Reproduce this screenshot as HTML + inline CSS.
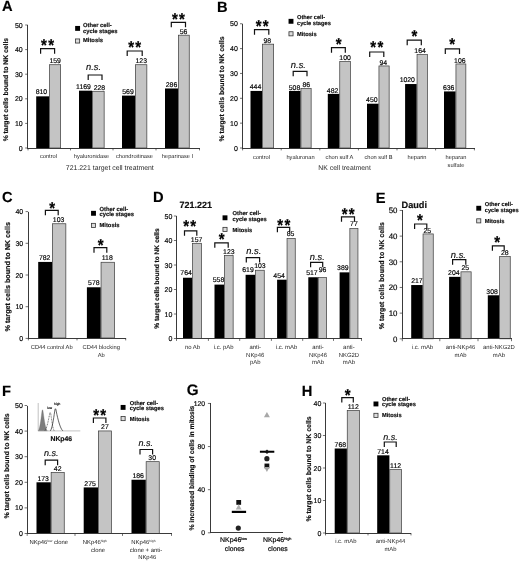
<!DOCTYPE html>
<html lang="en"><head><meta charset="utf-8"><title>Figure</title>
<style>html,body{margin:0;padding:0;background:#fff}body{width:520px;height:561px;overflow:hidden}svg text{stroke:#000;stroke-width:0.16px}svg{display:block;will-change:transform;font-family:'Liberation Sans', Arial, sans-serif}</style>
</head><body>
<svg width="520" height="561" viewBox="0 0 520 561" font-family='"Liberation Sans", Arial, sans-serif' text-rendering="geometricPrecision">
<rect width="520" height="561" fill="#fff"/>
<text x="2.00" y="11.40" font-size="14.7" text-anchor="start" font-weight="bold" font-style="normal" fill="#000" >A</text>
<rect x="36.20" y="96.34" width="13.00" height="51.66" fill="#000"/>
<rect x="49.55" y="64.71" width="11.10" height="83.29" fill="#c4c4c4" stroke="#3a3a3a" stroke-width="0.7"/>
<text x="41.40" y="94.44" font-size="6.9" text-anchor="middle" font-weight="normal" font-style="normal" fill="#000" >810</text>
<text x="55.15" y="63.06" font-size="6.9" text-anchor="middle" font-weight="normal" font-style="normal" fill="#000" >159</text>
<path d="M40.60 53.70V48.70H54.60V53.70" fill="none" stroke="#111" stroke-width="1.2"/>
<text transform="translate(48.25 51.12) scale(1 1.15)" font-size="15" text-anchor="middle" font-weight="bold" fill="#000" letter-spacing="1.3" style="stroke-width:0.22px">**</text>
<rect x="79.00" y="90.68" width="13.00" height="57.32" fill="#000"/>
<rect x="92.35" y="91.28" width="11.80" height="56.72" fill="#c4c4c4" stroke="#3a3a3a" stroke-width="0.7"/>
<text x="83.50" y="89.38" font-size="6.9" text-anchor="middle" font-weight="normal" font-style="normal" fill="#000" >1169</text>
<text x="99.45" y="89.63" font-size="6.9" text-anchor="middle" font-weight="normal" font-style="normal" fill="#000" >228</text>
<path d="M88.20 80.00V75.00H102.00V80.00" fill="none" stroke="#111" stroke-width="1.2"/>
<text x="93.60" y="70.40" font-size="9.4" text-anchor="middle" font-weight="normal" font-style="italic" fill="#111" >n.s.</text>
<rect x="122.00" y="95.60" width="13.00" height="52.40" fill="#000"/>
<rect x="135.35" y="64.71" width="11.50" height="83.29" fill="#c4c4c4" stroke="#3a3a3a" stroke-width="0.7"/>
<text x="128.00" y="94.30" font-size="6.9" text-anchor="middle" font-weight="normal" font-style="normal" fill="#000" >569</text>
<text x="141.25" y="63.06" font-size="6.9" text-anchor="middle" font-weight="normal" font-style="normal" fill="#000" >123</text>
<path d="M127.20 56.00V51.00H142.20V56.00" fill="none" stroke="#111" stroke-width="1.2"/>
<text transform="translate(135.35 53.42) scale(1 1.15)" font-size="15" text-anchor="middle" font-weight="bold" fill="#000" letter-spacing="1.3" style="stroke-width:0.22px">**</text>
<rect x="165.00" y="88.47" width="13.00" height="59.53" fill="#000"/>
<rect x="178.35" y="35.19" width="10.90" height="112.81" fill="#c4c4c4" stroke="#3a3a3a" stroke-width="0.7"/>
<text x="171.50" y="87.17" font-size="6.9" text-anchor="middle" font-weight="normal" font-style="normal" fill="#000" >286</text>
<text x="183.55" y="33.54" font-size="6.9" text-anchor="middle" font-weight="normal" font-style="normal" fill="#000" >56</text>
<path d="M171.30 27.30V22.30H185.50V27.30" fill="none" stroke="#111" stroke-width="1.2"/>
<text transform="translate(179.05 24.72) scale(1 1.15)" font-size="15" text-anchor="middle" font-weight="bold" fill="#000" letter-spacing="1.3" style="stroke-width:0.22px">**</text>
<line x1="27.80" y1="25.00" x2="27.80" y2="148.50" stroke="#3a3a3a" stroke-width="1" shape-rendering="crispEdges"/>
<line x1="27.30" y1="148.00" x2="200.00" y2="148.00" stroke="#3a3a3a" stroke-width="1" shape-rendering="crispEdges"/>
<line x1="25.20" y1="148.00" x2="27.80" y2="148.00" stroke="#333" stroke-width="0.7"/>
<text x="22.70" y="150.52" font-size="7" text-anchor="end" font-weight="normal" font-style="normal" fill="#000" >0</text>
<line x1="25.20" y1="123.40" x2="27.80" y2="123.40" stroke="#333" stroke-width="0.7"/>
<text x="22.70" y="125.92" font-size="7" text-anchor="end" font-weight="normal" font-style="normal" fill="#000" >10</text>
<line x1="25.20" y1="98.80" x2="27.80" y2="98.80" stroke="#333" stroke-width="0.7"/>
<text x="22.70" y="101.32" font-size="7" text-anchor="end" font-weight="normal" font-style="normal" fill="#000" >20</text>
<line x1="25.20" y1="74.20" x2="27.80" y2="74.20" stroke="#333" stroke-width="0.7"/>
<text x="22.70" y="76.72" font-size="7" text-anchor="end" font-weight="normal" font-style="normal" fill="#000" >30</text>
<line x1="25.20" y1="49.60" x2="27.80" y2="49.60" stroke="#333" stroke-width="0.7"/>
<text x="22.70" y="52.12" font-size="7" text-anchor="end" font-weight="normal" font-style="normal" fill="#000" >40</text>
<line x1="25.20" y1="25.00" x2="27.80" y2="25.00" stroke="#333" stroke-width="0.7"/>
<text x="22.70" y="27.52" font-size="7" text-anchor="end" font-weight="normal" font-style="normal" fill="#000" >50</text>
<line x1="28.00" y1="148.00" x2="28.00" y2="150.40" stroke="#333" stroke-width="0.7"/>
<line x1="70.50" y1="148.00" x2="70.50" y2="150.40" stroke="#333" stroke-width="0.7"/>
<line x1="113.00" y1="148.00" x2="113.00" y2="150.40" stroke="#333" stroke-width="0.7"/>
<line x1="156.00" y1="148.00" x2="156.00" y2="150.40" stroke="#333" stroke-width="0.7"/>
<line x1="199.50" y1="148.00" x2="199.50" y2="150.40" stroke="#333" stroke-width="0.7"/>
<text x="48.50" y="158.00" font-size="5.7" text-anchor="middle" font-weight="normal" font-style="normal" fill="#2a2a2a" style="stroke:none">control</text>
<text x="91.50" y="158.00" font-size="5.7" text-anchor="middle" font-weight="normal" font-style="normal" fill="#2a2a2a" style="stroke:none">hyaluronidase</text>
<text x="134.50" y="158.00" font-size="5.7" text-anchor="middle" font-weight="normal" font-style="normal" fill="#2a2a2a" style="stroke:none">chondroitinase</text>
<text x="177.50" y="158.00" font-size="5.7" text-anchor="middle" font-weight="normal" font-style="normal" fill="#2a2a2a" style="stroke:none">heparinase I</text>
<text transform="translate(7.90 89.60) rotate(-90)" font-size="6.8" text-anchor="middle" font-weight="bold" fill="#111" >% target cells bound to NK cells</text>
<text x="109.80" y="170.30" font-size="6.92" text-anchor="middle" font-weight="normal" font-style="normal" fill="#2a2a2a" style="stroke:none">721.221 target cell treatment</text>
<rect x="75.15" y="25.95" width="4.90" height="4.90" fill="#000"/>
<text x="83.00" y="27.30" font-size="5.8" text-anchor="start" font-weight="bold" font-style="normal" fill="#111" >Other cell-</text>
<text x="83.00" y="32.98" font-size="5.8" text-anchor="start" font-weight="bold" font-style="normal" fill="#111" >cycle stages</text>
<rect x="75.55" y="38.95" width="4.10" height="4.10" fill="#dcdcdc" stroke="#333" stroke-width="0.8"/>
<text x="83.00" y="42.30" font-size="5.8" text-anchor="start" font-weight="bold" font-style="normal" fill="#111" >Mitosis</text>
<text x="217.00" y="12.00" font-size="14.7" text-anchor="start" font-weight="bold" font-style="normal" fill="#000" >B</text>
<rect x="250.50" y="90.93" width="11.60" height="57.07" fill="#000"/>
<rect x="262.45" y="44.17" width="11.20" height="103.83" fill="#c4c4c4" stroke="#3a3a3a" stroke-width="0.7"/>
<text x="255.50" y="89.33" font-size="6.9" text-anchor="middle" font-weight="normal" font-style="normal" fill="#000" >444</text>
<text x="267.25" y="42.52" font-size="6.9" text-anchor="middle" font-weight="normal" font-style="normal" fill="#000" >98</text>
<path d="M254.50 34.70V29.70H268.80V34.70" fill="none" stroke="#111" stroke-width="1.2"/>
<text transform="translate(262.80 32.12) scale(1 1.15)" font-size="15" text-anchor="middle" font-weight="bold" fill="#000" letter-spacing="1.3" style="stroke-width:0.22px">**</text>
<rect x="289.00" y="90.93" width="11.60" height="57.07" fill="#000"/>
<rect x="300.95" y="88.57" width="10.20" height="59.43" fill="#c4c4c4" stroke="#3a3a3a" stroke-width="0.7"/>
<text x="294.50" y="89.63" font-size="6.9" text-anchor="middle" font-weight="normal" font-style="normal" fill="#000" >508</text>
<text x="306.25" y="86.92" font-size="6.9" text-anchor="middle" font-weight="normal" font-style="normal" fill="#000" >86</text>
<path d="M293.20 76.30V71.30H307.00V76.30" fill="none" stroke="#111" stroke-width="1.2"/>
<text x="298.40" y="67.90" font-size="9.4" text-anchor="middle" font-weight="normal" font-style="italic" fill="#111" >n.s.</text>
<rect x="327.80" y="93.88" width="11.60" height="54.12" fill="#000"/>
<rect x="339.75" y="61.51" width="10.60" height="86.49" fill="#c4c4c4" stroke="#3a3a3a" stroke-width="0.7"/>
<text x="332.60" y="92.58" font-size="6.9" text-anchor="middle" font-weight="normal" font-style="normal" fill="#000" >482</text>
<text x="345.05" y="59.86" font-size="6.9" text-anchor="middle" font-weight="normal" font-style="normal" fill="#000" >100</text>
<path d="M331.50 52.70V47.70H345.30V52.70" fill="none" stroke="#111" stroke-width="1.2"/>
<text transform="translate(338.70 50.12) scale(1 1.15)" font-size="15" text-anchor="middle" font-weight="bold" fill="#000" letter-spacing="0" style="stroke-width:0.22px">*</text>
<rect x="367.00" y="103.72" width="11.60" height="44.28" fill="#000"/>
<rect x="378.95" y="65.94" width="10.20" height="82.06" fill="#c4c4c4" stroke="#3a3a3a" stroke-width="0.7"/>
<text x="371.80" y="102.42" font-size="6.9" text-anchor="middle" font-weight="normal" font-style="normal" fill="#000" >450</text>
<text x="383.25" y="65.49" font-size="6.9" text-anchor="middle" font-weight="normal" font-style="normal" fill="#000" >94</text>
<path d="M369.70 57.00V52.00H383.80V57.00" fill="none" stroke="#111" stroke-width="1.2"/>
<text transform="translate(377.40 53.12) scale(1 1.15)" font-size="15" text-anchor="middle" font-weight="bold" fill="#000" letter-spacing="1.3" style="stroke-width:0.22px">**</text>
<rect x="405.10" y="84.04" width="11.60" height="63.96" fill="#000"/>
<rect x="417.05" y="54.62" width="10.30" height="93.38" fill="#c4c4c4" stroke="#3a3a3a" stroke-width="0.7"/>
<text x="407.30" y="82.14" font-size="6.9" text-anchor="middle" font-weight="normal" font-style="normal" fill="#000" >1020</text>
<text x="420.05" y="52.97" font-size="6.9" text-anchor="middle" font-weight="normal" font-style="normal" fill="#000" >164</text>
<path d="M407.20 45.20V40.20H421.30V45.20" fill="none" stroke="#111" stroke-width="1.2"/>
<text transform="translate(414.45 41.92) scale(1 1.15)" font-size="15" text-anchor="middle" font-weight="bold" fill="#000" letter-spacing="0" style="stroke-width:0.22px">*</text>
<rect x="444.00" y="91.42" width="11.60" height="56.58" fill="#000"/>
<rect x="455.95" y="63.97" width="9.90" height="84.03" fill="#c4c4c4" stroke="#3a3a3a" stroke-width="0.7"/>
<text x="448.70" y="90.12" font-size="6.9" text-anchor="middle" font-weight="normal" font-style="normal" fill="#000" >636</text>
<text x="459.85" y="62.62" font-size="6.9" text-anchor="middle" font-weight="normal" font-style="normal" fill="#000" >106</text>
<path d="M445.30 53.90V48.90H459.50V53.90" fill="none" stroke="#111" stroke-width="1.2"/>
<text transform="translate(452.10 50.42) scale(1 1.15)" font-size="15" text-anchor="middle" font-weight="bold" fill="#000" letter-spacing="0" style="stroke-width:0.22px">*</text>
<line x1="242.60" y1="23.75" x2="242.60" y2="148.50" stroke="#3a3a3a" stroke-width="1" shape-rendering="crispEdges"/>
<line x1="242.10" y1="148.00" x2="474.50" y2="148.00" stroke="#3a3a3a" stroke-width="1" shape-rendering="crispEdges"/>
<line x1="240.00" y1="148.00" x2="242.60" y2="148.00" stroke="#333" stroke-width="0.7"/>
<text x="237.90" y="150.52" font-size="7" text-anchor="end" font-weight="normal" font-style="normal" fill="#000" >0</text>
<line x1="240.00" y1="123.15" x2="242.60" y2="123.15" stroke="#333" stroke-width="0.7"/>
<text x="237.90" y="125.67" font-size="7" text-anchor="end" font-weight="normal" font-style="normal" fill="#000" >10</text>
<line x1="240.00" y1="98.30" x2="242.60" y2="98.30" stroke="#333" stroke-width="0.7"/>
<text x="237.90" y="100.82" font-size="7" text-anchor="end" font-weight="normal" font-style="normal" fill="#000" >20</text>
<line x1="240.00" y1="73.45" x2="242.60" y2="73.45" stroke="#333" stroke-width="0.7"/>
<text x="237.90" y="75.97" font-size="7" text-anchor="end" font-weight="normal" font-style="normal" fill="#000" >30</text>
<line x1="240.00" y1="48.60" x2="242.60" y2="48.60" stroke="#333" stroke-width="0.7"/>
<text x="237.90" y="51.12" font-size="7" text-anchor="end" font-weight="normal" font-style="normal" fill="#000" >40</text>
<line x1="240.00" y1="23.75" x2="242.60" y2="23.75" stroke="#333" stroke-width="0.7"/>
<text x="237.90" y="26.27" font-size="7" text-anchor="end" font-weight="normal" font-style="normal" fill="#000" >50</text>
<line x1="242.60" y1="148.00" x2="242.60" y2="150.40" stroke="#333" stroke-width="0.7"/>
<line x1="281.20" y1="148.00" x2="281.20" y2="150.40" stroke="#333" stroke-width="0.7"/>
<line x1="319.80" y1="148.00" x2="319.80" y2="150.40" stroke="#333" stroke-width="0.7"/>
<line x1="358.40" y1="148.00" x2="358.40" y2="150.40" stroke="#333" stroke-width="0.7"/>
<line x1="397.00" y1="148.00" x2="397.00" y2="150.40" stroke="#333" stroke-width="0.7"/>
<line x1="435.60" y1="148.00" x2="435.60" y2="150.40" stroke="#333" stroke-width="0.7"/>
<line x1="474.40" y1="148.00" x2="474.40" y2="150.40" stroke="#333" stroke-width="0.7"/>
<text x="261.50" y="158.80" font-size="5.7" text-anchor="middle" font-weight="normal" font-style="normal" fill="#2a2a2a" style="stroke:none">control</text>
<text x="300.50" y="158.80" font-size="5.7" text-anchor="middle" font-weight="normal" font-style="normal" fill="#2a2a2a" style="stroke:none">hyaluronan</text>
<text x="339.50" y="158.80" font-size="5.7" text-anchor="middle" font-weight="normal" font-style="normal" fill="#2a2a2a" style="stroke:none">chon sulf A</text>
<text x="378.50" y="158.80" font-size="5.7" text-anchor="middle" font-weight="normal" font-style="normal" fill="#2a2a2a" style="stroke:none">chon sulf B</text>
<text x="417.00" y="158.80" font-size="5.7" text-anchor="middle" font-weight="normal" font-style="normal" fill="#2a2a2a" style="stroke:none">heparin</text>
<text x="456.00" y="158.80" font-size="5.7" text-anchor="middle" font-weight="normal" font-style="normal" fill="#2a2a2a" style="stroke:none">heparan</text>
<text x="456.00" y="166.60" font-size="5.7" text-anchor="middle" font-weight="normal" font-style="normal" fill="#2a2a2a" style="stroke:none">sulfate</text>
<text transform="translate(223.70 89.00) rotate(-90)" font-size="6.9" text-anchor="middle" font-weight="bold" fill="#111" >% target cells bound to NK cells</text>
<text x="344.60" y="170.30" font-size="6.85" text-anchor="middle" font-weight="normal" font-style="normal" fill="#2a2a2a" style="stroke:none">NK cell treatment</text>
<rect x="288.55" y="18.85" width="4.90" height="4.90" fill="#000"/>
<text x="297.00" y="19.40" font-size="5.7" text-anchor="start" font-weight="bold" font-style="normal" fill="#111" >Other cell-</text>
<text x="297.00" y="24.99" font-size="5.7" text-anchor="start" font-weight="bold" font-style="normal" fill="#111" >cycle stages</text>
<rect x="288.95" y="31.75" width="4.10" height="4.10" fill="#dcdcdc" stroke="#333" stroke-width="0.8"/>
<text x="297.00" y="35.70" font-size="5.7" text-anchor="start" font-weight="bold" font-style="normal" fill="#111" >Mitosis</text>
<text x="2.00" y="201.50" font-size="14.7" text-anchor="start" font-weight="bold" font-style="normal" fill="#000" >C</text>
<rect x="38.20" y="261.92" width="13.80" height="76.08" fill="#000"/>
<rect x="52.35" y="223.75" width="13.50" height="114.25" fill="#c4c4c4" stroke="#3a3a3a" stroke-width="0.7"/>
<text x="44.70" y="260.02" font-size="6.9" text-anchor="middle" font-weight="normal" font-style="normal" fill="#000" >782</text>
<text x="58.60" y="222.10" font-size="6.9" text-anchor="middle" font-weight="normal" font-style="normal" fill="#000" >103</text>
<path d="M45.40 215.30V210.30H58.20V215.30" fill="none" stroke="#111" stroke-width="1.2"/>
<text transform="translate(52.10 213.62) scale(1 1.15)" font-size="15" text-anchor="middle" font-weight="bold" fill="#000" letter-spacing="0" style="stroke-width:0.22px">*</text>
<rect x="86.90" y="287.28" width="13.80" height="50.72" fill="#000"/>
<rect x="101.05" y="262.27" width="13.50" height="75.73" fill="#c4c4c4" stroke="#3a3a3a" stroke-width="0.7"/>
<text x="93.80" y="285.38" font-size="6.9" text-anchor="middle" font-weight="normal" font-style="normal" fill="#000" >578</text>
<text x="107.30" y="260.02" font-size="6.9" text-anchor="middle" font-weight="normal" font-style="normal" fill="#000" >118</text>
<path d="M94.00 252.70V247.70H106.80V252.70" fill="none" stroke="#111" stroke-width="1.2"/>
<text transform="translate(100.70 251.02) scale(1 1.15)" font-size="15" text-anchor="middle" font-weight="bold" fill="#000" letter-spacing="0" style="stroke-width:0.22px">*</text>
<line x1="28.20" y1="211.60" x2="28.20" y2="338.50" stroke="#3a3a3a" stroke-width="1" shape-rendering="crispEdges"/>
<line x1="27.70" y1="338.00" x2="126.00" y2="338.00" stroke="#3a3a3a" stroke-width="1" shape-rendering="crispEdges"/>
<line x1="25.60" y1="338.40" x2="28.20" y2="338.40" stroke="#333" stroke-width="0.7"/>
<text x="23.20" y="340.92" font-size="7" text-anchor="end" font-weight="normal" font-style="normal" fill="#000" >0</text>
<line x1="25.60" y1="306.70" x2="28.20" y2="306.70" stroke="#333" stroke-width="0.7"/>
<text x="23.20" y="309.22" font-size="7" text-anchor="end" font-weight="normal" font-style="normal" fill="#000" >10</text>
<line x1="25.60" y1="275.00" x2="28.20" y2="275.00" stroke="#333" stroke-width="0.7"/>
<text x="23.20" y="277.52" font-size="7" text-anchor="end" font-weight="normal" font-style="normal" fill="#000" >20</text>
<line x1="25.60" y1="243.30" x2="28.20" y2="243.30" stroke="#333" stroke-width="0.7"/>
<text x="23.20" y="245.82" font-size="7" text-anchor="end" font-weight="normal" font-style="normal" fill="#000" >30</text>
<line x1="25.60" y1="211.60" x2="28.20" y2="211.60" stroke="#333" stroke-width="0.7"/>
<text x="23.20" y="214.12" font-size="7" text-anchor="end" font-weight="normal" font-style="normal" fill="#000" >40</text>
<line x1="28.40" y1="338.00" x2="28.40" y2="340.40" stroke="#333" stroke-width="0.7"/>
<line x1="77.00" y1="338.00" x2="77.00" y2="340.40" stroke="#333" stroke-width="0.7"/>
<line x1="125.70" y1="338.00" x2="125.70" y2="340.40" stroke="#333" stroke-width="0.7"/>
<text x="51.70" y="349.00" font-size="5.75" text-anchor="middle" font-weight="normal" font-style="normal" fill="#2a2a2a" style="stroke:none">CD44 control Ab</text>
<text x="101.20" y="349.00" font-size="5.75" text-anchor="middle" font-weight="normal" font-style="normal" fill="#2a2a2a" style="stroke:none">CD44 blocking</text>
<text x="101.20" y="356.80" font-size="5.75" text-anchor="middle" font-weight="normal" font-style="normal" fill="#2a2a2a" style="stroke:none">Ab</text>
<text transform="translate(10.20 276.70) rotate(-90)" font-size="7.2" text-anchor="middle" font-weight="bold" fill="#111" >% target cells bound to NK cells</text>
<rect x="91.05" y="210.85" width="4.90" height="4.90" fill="#000"/>
<text x="99.50" y="210.80" font-size="5.8" text-anchor="start" font-weight="bold" font-style="normal" fill="#111" >Other cell-</text>
<text x="99.50" y="216.48" font-size="5.8" text-anchor="start" font-weight="bold" font-style="normal" fill="#111" >cycle stages</text>
<rect x="91.45" y="223.35" width="4.10" height="4.10" fill="#dcdcdc" stroke="#333" stroke-width="0.8"/>
<text x="99.50" y="226.80" font-size="5.8" text-anchor="start" font-weight="bold" font-style="normal" fill="#111" >Mitosis</text>
<text x="153.00" y="202.00" font-size="14.7" text-anchor="start" font-weight="bold" font-style="normal" fill="#000" >D</text>
<text x="179.60" y="207.60" font-size="9.0" text-anchor="start" font-weight="bold" font-style="normal" fill="#111" >721.221</text>
<rect x="183.00" y="277.74" width="9.20" height="60.76" fill="#000"/>
<rect x="192.55" y="243.30" width="8.90" height="95.20" fill="#c4c4c4" stroke="#3a3a3a" stroke-width="0.7"/>
<text x="186.10" y="275.34" font-size="6.9" text-anchor="middle" font-weight="normal" font-style="normal" fill="#000" >764</text>
<text x="196.60" y="241.65" font-size="6.9" text-anchor="middle" font-weight="normal" font-style="normal" fill="#000" >157</text>
<path d="M184.50 235.80V230.80H196.80V235.80" fill="none" stroke="#111" stroke-width="1.2"/>
<text transform="translate(190.30 232.42) scale(1 1.15)" font-size="15" text-anchor="middle" font-weight="bold" fill="#000" letter-spacing="1.3" style="stroke-width:0.22px">**</text>
<rect x="214.50" y="284.60" width="9.60" height="53.90" fill="#000"/>
<rect x="224.45" y="255.55" width="8.70" height="82.95" fill="#c4c4c4" stroke="#3a3a3a" stroke-width="0.7"/>
<text x="218.50" y="282.30" font-size="6.9" text-anchor="middle" font-weight="normal" font-style="normal" fill="#000" >558</text>
<text x="228.80" y="253.90" font-size="6.9" text-anchor="middle" font-weight="normal" font-style="normal" fill="#000" >123</text>
<path d="M214.80 247.80V242.80H228.20V247.80" fill="none" stroke="#111" stroke-width="1.2"/>
<text transform="translate(221.70 245.22) scale(1 1.15)" font-size="15" text-anchor="middle" font-weight="bold" fill="#000" letter-spacing="0" style="stroke-width:0.22px">*</text>
<rect x="245.60" y="274.80" width="9.60" height="63.70" fill="#000"/>
<rect x="255.55" y="270.25" width="8.70" height="68.25" fill="#c4c4c4" stroke="#3a3a3a" stroke-width="0.7"/>
<text x="248.00" y="272.20" font-size="6.9" text-anchor="middle" font-weight="normal" font-style="normal" fill="#000" >619</text>
<text x="259.90" y="267.90" font-size="6.9" text-anchor="middle" font-weight="normal" font-style="normal" fill="#000" >103</text>
<path d="M246.30 262.60V257.60H259.60V262.60" fill="none" stroke="#111" stroke-width="1.2"/>
<text x="253.75" y="253.80" font-size="9.4" text-anchor="middle" font-weight="normal" font-style="italic" fill="#111" >n.s.</text>
<rect x="277.10" y="279.70" width="9.60" height="58.80" fill="#000"/>
<rect x="287.05" y="238.40" width="8.20" height="100.10" fill="#c4c4c4" stroke="#3a3a3a" stroke-width="0.7"/>
<text x="279.10" y="277.70" font-size="6.9" text-anchor="middle" font-weight="normal" font-style="normal" fill="#000" >454</text>
<text x="290.60" y="236.35" font-size="6.9" text-anchor="middle" font-weight="normal" font-style="normal" fill="#000" >85</text>
<path d="M277.40 232.30V227.30H289.70V232.30" fill="none" stroke="#111" stroke-width="1.2"/>
<text transform="translate(284.40 231.02) scale(1 1.15)" font-size="15" text-anchor="middle" font-weight="bold" fill="#000" letter-spacing="1.3" style="stroke-width:0.22px">**</text>
<rect x="308.30" y="277.25" width="9.60" height="61.25" fill="#000"/>
<rect x="318.25" y="277.60" width="8.40" height="60.90" fill="#c4c4c4" stroke="#3a3a3a" stroke-width="0.7"/>
<text x="311.90" y="275.15" font-size="6.9" text-anchor="middle" font-weight="normal" font-style="normal" fill="#000" >517</text>
<text x="322.60" y="272.45" font-size="6.9" text-anchor="middle" font-weight="normal" font-style="normal" fill="#000" >96</text>
<path d="M310.60 267.30V262.30H322.70V267.30" fill="none" stroke="#111" stroke-width="1.2"/>
<text x="317.25" y="260.10" font-size="9.4" text-anchor="middle" font-weight="normal" font-style="italic" fill="#111" >n.s.</text>
<rect x="339.60" y="272.35" width="9.90" height="66.15" fill="#000"/>
<rect x="349.85" y="228.60" width="8.10" height="109.90" fill="#c4c4c4" stroke="#3a3a3a" stroke-width="0.7"/>
<text x="342.85" y="270.25" font-size="6.9" text-anchor="middle" font-weight="normal" font-style="normal" fill="#000" >389</text>
<text x="353.90" y="226.45" font-size="6.9" text-anchor="middle" font-weight="normal" font-style="normal" fill="#000" >77</text>
<path d="M341.50 221.80V216.80H354.50V221.80" fill="none" stroke="#111" stroke-width="1.2"/>
<text transform="translate(348.85 219.72) scale(1 1.15)" font-size="15" text-anchor="middle" font-weight="bold" fill="#000" letter-spacing="1.3" style="stroke-width:0.22px">**</text>
<line x1="176.50" y1="216.00" x2="176.50" y2="339.00" stroke="#3a3a3a" stroke-width="1" shape-rendering="crispEdges"/>
<line x1="176.00" y1="338.50" x2="361.80" y2="338.50" stroke="#3a3a3a" stroke-width="1" shape-rendering="crispEdges"/>
<line x1="173.90" y1="338.50" x2="176.50" y2="338.50" stroke="#333" stroke-width="0.7"/>
<text x="172.30" y="341.02" font-size="7" text-anchor="end" font-weight="normal" font-style="normal" fill="#000" >0</text>
<line x1="173.90" y1="314.00" x2="176.50" y2="314.00" stroke="#333" stroke-width="0.7"/>
<text x="172.30" y="316.52" font-size="7" text-anchor="end" font-weight="normal" font-style="normal" fill="#000" >10</text>
<line x1="173.90" y1="289.50" x2="176.50" y2="289.50" stroke="#333" stroke-width="0.7"/>
<text x="172.30" y="292.02" font-size="7" text-anchor="end" font-weight="normal" font-style="normal" fill="#000" >20</text>
<line x1="173.90" y1="265.00" x2="176.50" y2="265.00" stroke="#333" stroke-width="0.7"/>
<text x="172.30" y="267.52" font-size="7" text-anchor="end" font-weight="normal" font-style="normal" fill="#000" >30</text>
<line x1="173.90" y1="240.50" x2="176.50" y2="240.50" stroke="#333" stroke-width="0.7"/>
<text x="172.30" y="243.02" font-size="7" text-anchor="end" font-weight="normal" font-style="normal" fill="#000" >40</text>
<line x1="173.90" y1="216.00" x2="176.50" y2="216.00" stroke="#333" stroke-width="0.7"/>
<text x="172.30" y="218.52" font-size="7" text-anchor="end" font-weight="normal" font-style="normal" fill="#000" >50</text>
<line x1="176.50" y1="338.50" x2="176.50" y2="340.90" stroke="#333" stroke-width="0.7"/>
<line x1="208.40" y1="338.50" x2="208.40" y2="340.90" stroke="#333" stroke-width="0.7"/>
<line x1="239.70" y1="338.50" x2="239.70" y2="340.90" stroke="#333" stroke-width="0.7"/>
<line x1="271.40" y1="338.50" x2="271.40" y2="340.90" stroke="#333" stroke-width="0.7"/>
<line x1="302.70" y1="338.50" x2="302.70" y2="340.90" stroke="#333" stroke-width="0.7"/>
<line x1="333.50" y1="338.50" x2="333.50" y2="340.90" stroke="#333" stroke-width="0.7"/>
<line x1="361.50" y1="338.50" x2="361.50" y2="340.90" stroke="#333" stroke-width="0.7"/>
<text x="192.50" y="349.20" font-size="5.95" text-anchor="middle" font-weight="normal" font-style="normal" fill="#2a2a2a" style="stroke:none">no Ab</text>
<text x="223.70" y="349.20" font-size="5.95" text-anchor="middle" font-weight="normal" font-style="normal" fill="#2a2a2a" style="stroke:none">i.c. pAb</text>
<text x="255.20" y="349.20" font-size="5.95" text-anchor="middle" font-weight="normal" font-style="normal" fill="#2a2a2a" style="stroke:none">anti-</text>
<text x="255.20" y="356.70" font-size="5.95" text-anchor="middle" font-weight="normal" font-style="normal" fill="#2a2a2a" style="stroke:none">NKp46</text>
<text x="255.20" y="364.20" font-size="5.95" text-anchor="middle" font-weight="normal" font-style="normal" fill="#2a2a2a" style="stroke:none">pAb</text>
<text x="286.60" y="349.20" font-size="5.95" text-anchor="middle" font-weight="normal" font-style="normal" fill="#2a2a2a" style="stroke:none">i.c. mAb</text>
<text x="318.00" y="349.20" font-size="5.95" text-anchor="middle" font-weight="normal" font-style="normal" fill="#2a2a2a" style="stroke:none">anti-</text>
<text x="318.00" y="356.70" font-size="5.95" text-anchor="middle" font-weight="normal" font-style="normal" fill="#2a2a2a" style="stroke:none">NKp46</text>
<text x="318.00" y="364.20" font-size="5.95" text-anchor="middle" font-weight="normal" font-style="normal" fill="#2a2a2a" style="stroke:none">mAb</text>
<text x="348.90" y="349.20" font-size="5.95" text-anchor="middle" font-weight="normal" font-style="normal" fill="#2a2a2a" style="stroke:none">anti-</text>
<text x="348.90" y="356.70" font-size="5.95" text-anchor="middle" font-weight="normal" font-style="normal" fill="#2a2a2a" style="stroke:none">NKG2D</text>
<text x="348.90" y="364.20" font-size="5.95" text-anchor="middle" font-weight="normal" font-style="normal" fill="#2a2a2a" style="stroke:none">mAb</text>
<text transform="translate(158.50 278.60) rotate(-90)" font-size="6.6" text-anchor="middle" font-weight="bold" fill="#111" >% target cells bound to NK cells</text>
<rect x="222.55" y="215.35" width="4.90" height="4.90" fill="#000"/>
<text x="232.50" y="215.00" font-size="5.75" text-anchor="start" font-weight="bold" font-style="normal" fill="#111" >Other cell-</text>
<text x="232.50" y="220.63" font-size="5.75" text-anchor="start" font-weight="bold" font-style="normal" fill="#111" >cycle stages</text>
<rect x="222.95" y="227.35" width="4.10" height="4.10" fill="#dcdcdc" stroke="#333" stroke-width="0.8"/>
<text x="232.50" y="232.00" font-size="5.75" text-anchor="start" font-weight="bold" font-style="normal" fill="#111" >Mitosis</text>
<text x="375.70" y="202.80" font-size="14.7" text-anchor="start" font-weight="bold" font-style="normal" fill="#000" >E</text>
<text x="401.50" y="208.20" font-size="9.2" text-anchor="start" font-weight="bold" font-style="normal" fill="#111" >Daudi</text>
<rect x="411.20" y="285.04" width="11.50" height="53.76" fill="#000"/>
<rect x="423.05" y="233.93" width="10.20" height="104.87" fill="#c4c4c4" stroke="#3a3a3a" stroke-width="0.7"/>
<text x="416.95" y="283.04" font-size="6.9" text-anchor="middle" font-weight="normal" font-style="normal" fill="#000" >217</text>
<text x="427.35" y="233.08" font-size="6.9" text-anchor="middle" font-weight="normal" font-style="normal" fill="#000" >25</text>
<path d="M414.60 229.00V224.00H426.80V229.00" fill="none" stroke="#111" stroke-width="1.2"/>
<text transform="translate(419.90 226.12) scale(1 1.15)" font-size="15" text-anchor="middle" font-weight="bold" fill="#000" letter-spacing="0" style="stroke-width:0.22px">*</text>
<rect x="449.10" y="276.85" width="11.50" height="61.95" fill="#000"/>
<rect x="460.95" y="271.82" width="10.20" height="66.98" fill="#c4c4c4" stroke="#3a3a3a" stroke-width="0.7"/>
<text x="453.85" y="275.25" font-size="6.9" text-anchor="middle" font-weight="normal" font-style="normal" fill="#000" >204</text>
<text x="465.25" y="269.57" font-size="6.9" text-anchor="middle" font-weight="normal" font-style="normal" fill="#000" >25</text>
<path d="M452.60 264.70V259.70H465.80V264.70" fill="none" stroke="#111" stroke-width="1.2"/>
<text x="458.40" y="257.70" font-size="9.4" text-anchor="middle" font-weight="normal" font-style="italic" fill="#111" >n.s.</text>
<rect x="487.80" y="295.28" width="11.50" height="43.52" fill="#000"/>
<rect x="499.65" y="256.46" width="10.60" height="82.34" fill="#c4c4c4" stroke="#3a3a3a" stroke-width="0.7"/>
<text x="492.05" y="293.98" font-size="6.9" text-anchor="middle" font-weight="normal" font-style="normal" fill="#000" >308</text>
<text x="504.75" y="254.61" font-size="6.9" text-anchor="middle" font-weight="normal" font-style="normal" fill="#000" >28</text>
<path d="M492.40 250.80V245.80H504.20V250.80" fill="none" stroke="#111" stroke-width="1.2"/>
<text transform="translate(497.10 248.22) scale(1 1.15)" font-size="15" text-anchor="middle" font-weight="bold" fill="#000" letter-spacing="0" style="stroke-width:0.22px">*</text>
<line x1="402.30" y1="210.45" x2="402.30" y2="339.30" stroke="#3a3a3a" stroke-width="1" shape-rendering="crispEdges"/>
<line x1="401.80" y1="338.80" x2="511.80" y2="338.80" stroke="#3a3a3a" stroke-width="1" shape-rendering="crispEdges"/>
<line x1="399.70" y1="338.80" x2="402.30" y2="338.80" stroke="#333" stroke-width="0.7"/>
<text x="397.50" y="341.64" font-size="7.9" text-anchor="end" font-weight="normal" font-style="normal" fill="#000" >0</text>
<line x1="399.70" y1="313.13" x2="402.30" y2="313.13" stroke="#333" stroke-width="0.7"/>
<text x="397.50" y="315.97" font-size="7.9" text-anchor="end" font-weight="normal" font-style="normal" fill="#000" >10</text>
<line x1="399.70" y1="287.46" x2="402.30" y2="287.46" stroke="#333" stroke-width="0.7"/>
<text x="397.50" y="290.30" font-size="7.9" text-anchor="end" font-weight="normal" font-style="normal" fill="#000" >20</text>
<line x1="399.70" y1="261.79" x2="402.30" y2="261.79" stroke="#333" stroke-width="0.7"/>
<text x="397.50" y="264.63" font-size="7.9" text-anchor="end" font-weight="normal" font-style="normal" fill="#000" >30</text>
<line x1="399.70" y1="236.12" x2="402.30" y2="236.12" stroke="#333" stroke-width="0.7"/>
<text x="397.50" y="238.96" font-size="7.9" text-anchor="end" font-weight="normal" font-style="normal" fill="#000" >40</text>
<line x1="399.70" y1="210.45" x2="402.30" y2="210.45" stroke="#333" stroke-width="0.7"/>
<text x="397.50" y="213.29" font-size="7.9" text-anchor="end" font-weight="normal" font-style="normal" fill="#000" >50</text>
<line x1="402.30" y1="338.80" x2="402.30" y2="341.20" stroke="#333" stroke-width="0.7"/>
<line x1="439.80" y1="338.80" x2="439.80" y2="341.20" stroke="#333" stroke-width="0.7"/>
<line x1="478.00" y1="338.80" x2="478.00" y2="341.20" stroke="#333" stroke-width="0.7"/>
<line x1="511.50" y1="338.80" x2="511.50" y2="341.20" stroke="#333" stroke-width="0.7"/>
<text x="422.50" y="349.30" font-size="5.9" text-anchor="middle" font-weight="normal" font-style="normal" fill="#2a2a2a" style="stroke:none">i.c. mAb</text>
<text x="460.60" y="349.30" font-size="5.9" text-anchor="middle" font-weight="normal" font-style="normal" fill="#2a2a2a" style="stroke:none">anti-NKp46</text>
<text x="460.60" y="356.90" font-size="5.9" text-anchor="middle" font-weight="normal" font-style="normal" fill="#2a2a2a" style="stroke:none">mAb</text>
<text x="498.90" y="349.30" font-size="5.9" text-anchor="middle" font-weight="normal" font-style="normal" fill="#2a2a2a" style="stroke:none">anti-NKG2D</text>
<text x="498.90" y="356.90" font-size="5.9" text-anchor="middle" font-weight="normal" font-style="normal" fill="#2a2a2a" style="stroke:none">mAb</text>
<text transform="translate(384.20 275.70) rotate(-90)" font-size="7.05" text-anchor="middle" font-weight="bold" fill="#111" >% target cells bound to NK cells</text>
<rect x="476.30" y="205.80" width="4.90" height="4.90" fill="#000"/>
<text x="484.80" y="206.30" font-size="5.7" text-anchor="start" font-weight="bold" font-style="normal" fill="#111" >Other cell-</text>
<text x="484.80" y="211.89" font-size="5.7" text-anchor="start" font-weight="bold" font-style="normal" fill="#111" >cycle stages</text>
<rect x="476.70" y="218.80" width="4.10" height="4.10" fill="#dcdcdc" stroke="#333" stroke-width="0.8"/>
<text x="484.80" y="222.90" font-size="5.7" text-anchor="start" font-weight="bold" font-style="normal" fill="#111" >Mitosis</text>
<text x="2.00" y="396.00" font-size="14.7" text-anchor="start" font-weight="bold" font-style="normal" fill="#000" >F</text>
<rect x="36.50" y="482.30" width="14.30" height="51.20" fill="#000"/>
<rect x="51.15" y="472.41" width="13.10" height="61.09" fill="#c4c4c4" stroke="#3a3a3a" stroke-width="0.7"/>
<text x="43.15" y="481.00" font-size="6.9" text-anchor="middle" font-weight="normal" font-style="normal" fill="#000" >173</text>
<text x="57.70" y="470.76" font-size="6.9" text-anchor="middle" font-weight="normal" font-style="normal" fill="#000" >42</text>
<path d="M45.20 465.20V460.20H57.60V465.20" fill="none" stroke="#111" stroke-width="1.2"/>
<text x="51.20" y="455.60" font-size="9" text-anchor="middle" font-weight="normal" font-style="italic" fill="#111" >n.s.</text>
<rect x="83.70" y="487.42" width="14.30" height="46.08" fill="#000"/>
<rect x="98.35" y="430.94" width="13.10" height="102.56" fill="#c4c4c4" stroke="#3a3a3a" stroke-width="0.7"/>
<text x="90.05" y="486.12" font-size="6.9" text-anchor="middle" font-weight="normal" font-style="normal" fill="#000" >275</text>
<text x="104.90" y="429.29" font-size="6.9" text-anchor="middle" font-weight="normal" font-style="normal" fill="#000" >27</text>
<path d="M93.40 423.00V418.00H105.90V423.00" fill="none" stroke="#111" stroke-width="1.2"/>
<text transform="translate(100.30 420.82) scale(1 1.15)" font-size="15" text-anchor="middle" font-weight="bold" fill="#000" letter-spacing="1.3" style="stroke-width:0.22px">**</text>
<rect x="131.50" y="479.74" width="14.30" height="53.76" fill="#000"/>
<rect x="146.15" y="461.66" width="13.10" height="71.84" fill="#c4c4c4" stroke="#3a3a3a" stroke-width="0.7"/>
<text x="138.15" y="478.44" font-size="6.9" text-anchor="middle" font-weight="normal" font-style="normal" fill="#000" >186</text>
<text x="152.20" y="459.71" font-size="6.9" text-anchor="middle" font-weight="normal" font-style="normal" fill="#000" >30</text>
<path d="M140.00 454.50V449.50H152.60V454.50" fill="none" stroke="#111" stroke-width="1.2"/>
<text x="145.80" y="446.20" font-size="9" text-anchor="middle" font-weight="normal" font-style="italic" fill="#111" >n.s.</text>
<line x1="27.20" y1="405.50" x2="27.20" y2="534.00" stroke="#3a3a3a" stroke-width="1" shape-rendering="crispEdges"/>
<line x1="26.70" y1="533.50" x2="171.80" y2="533.50" stroke="#3a3a3a" stroke-width="1" shape-rendering="crispEdges"/>
<line x1="24.60" y1="533.50" x2="27.20" y2="533.50" stroke="#333" stroke-width="0.7"/>
<text x="22.80" y="536.02" font-size="7" text-anchor="end" font-weight="normal" font-style="normal" fill="#000" >0</text>
<line x1="24.60" y1="507.90" x2="27.20" y2="507.90" stroke="#333" stroke-width="0.7"/>
<text x="22.80" y="510.42" font-size="7" text-anchor="end" font-weight="normal" font-style="normal" fill="#000" >10</text>
<line x1="24.60" y1="482.30" x2="27.20" y2="482.30" stroke="#333" stroke-width="0.7"/>
<text x="22.80" y="484.82" font-size="7" text-anchor="end" font-weight="normal" font-style="normal" fill="#000" >20</text>
<line x1="24.60" y1="456.70" x2="27.20" y2="456.70" stroke="#333" stroke-width="0.7"/>
<text x="22.80" y="459.22" font-size="7" text-anchor="end" font-weight="normal" font-style="normal" fill="#000" >30</text>
<line x1="24.60" y1="431.10" x2="27.20" y2="431.10" stroke="#333" stroke-width="0.7"/>
<text x="22.80" y="433.62" font-size="7" text-anchor="end" font-weight="normal" font-style="normal" fill="#000" >40</text>
<line x1="24.60" y1="405.50" x2="27.20" y2="405.50" stroke="#333" stroke-width="0.7"/>
<text x="22.80" y="408.02" font-size="7" text-anchor="end" font-weight="normal" font-style="normal" fill="#000" >50</text>
<line x1="27.20" y1="533.50" x2="27.20" y2="535.90" stroke="#333" stroke-width="0.7"/>
<line x1="75.00" y1="533.50" x2="75.00" y2="535.90" stroke="#333" stroke-width="0.7"/>
<line x1="122.50" y1="533.50" x2="122.50" y2="535.90" stroke="#333" stroke-width="0.7"/>
<line x1="171.50" y1="533.50" x2="171.50" y2="535.90" stroke="#333" stroke-width="0.7"/>
<text transform="translate(8.60 466.00) rotate(-90)" font-size="6.9" text-anchor="middle" font-weight="bold" fill="#111" >% target cells bound to NK cells</text>
<rect x="120.65" y="404.95" width="4.90" height="4.90" fill="#000"/>
<text x="129.80" y="404.70" font-size="5.72" text-anchor="start" font-weight="bold" font-style="normal" fill="#111" >Other cell-</text>
<text x="129.80" y="410.31" font-size="5.72" text-anchor="start" font-weight="bold" font-style="normal" fill="#111" >cycle stages</text>
<rect x="121.05" y="416.55" width="4.10" height="4.10" fill="#dcdcdc" stroke="#333" stroke-width="0.8"/>
<text x="129.80" y="420.50" font-size="5.72" text-anchor="start" font-weight="bold" font-style="normal" fill="#111" >Mitosis</text>
<text x="61.30" y="441.30" font-size="6.8" text-anchor="middle" font-weight="bold" font-style="normal" fill="#111" >NKp46</text>
<text x="48.70" y="544.00" font-size="5.9" text-anchor="middle" fill="#222" style="stroke:none">NKp46<tspan font-size="3.25" dy="-2.24">low</tspan><tspan dy="2.24"> clone</tspan></text>
<text x="94.80" y="544.00" font-size="5.9" text-anchor="middle" fill="#222" style="stroke:none">NKp46<tspan font-size="3.25" dy="-2.24">high</tspan><tspan dy="2.24"></tspan></text>
<text x="98.00" y="551.80" font-size="5.9" text-anchor="middle" font-weight="normal" font-style="normal" fill="#222" style="stroke:none">clone</text>
<text x="143.40" y="544.00" font-size="5.9" text-anchor="middle" fill="#222" style="stroke:none">NKp46<tspan font-size="3.25" dy="-2.24">high</tspan><tspan dy="2.24"></tspan></text>
<text x="146.00" y="551.80" font-size="5.9" text-anchor="middle" font-weight="normal" font-style="normal" fill="#222" style="stroke:none">clone + anti-</text>
<text x="147.20" y="559.20" font-size="5.9" text-anchor="middle" font-weight="normal" font-style="normal" fill="#222" style="stroke:none">NKp46</text>
<line x1="38.20" y1="403.00" x2="38.20" y2="431.20" stroke="#999" stroke-width="0.6"/>
<line x1="38.20" y1="430.90" x2="80.30" y2="430.90" stroke="#aaa" stroke-width="0.7"/>
<path d="M38.4 430.8 C40.2 428 41.4 415 42.0 411 C42.3 409.4 42.7 409.4 43.0 411 C43.7 415 45.0 428 47.2 430.8 Z" fill="#7d7d7d" stroke="#666" stroke-width="0.3"/>
<path d="M44.8 430.8 C47.2 428 49.0 417 49.7 413.6 C50.0 412.3 50.4 412.3 50.7 413.6 C51.4 417 52.4 428 54.2 430.8" fill="none" stroke="#222" stroke-width="0.6" stroke-dasharray="1 0.6"/>
<path d="M50.4 430.8 C52.6 428 54.2 414 54.9 410 C55.2 408.3 55.7 408.3 56.0 410 C56.8 414 59.5 428 62.8 430.8" fill="none" stroke="#111" stroke-width="0.65"/>
<text x="49.60" y="408.90" font-size="3.2" text-anchor="middle" font-weight="normal" font-style="normal" fill="#333" >low</text>
<text x="57.30" y="405.20" font-size="3.2" text-anchor="middle" font-weight="normal" font-style="normal" fill="#333" >high</text>
<text x="186.80" y="395.30" font-size="15.2" text-anchor="start" font-weight="bold" font-style="normal" fill="#000" >G</text>
<line x1="210.50" y1="403.44" x2="210.50" y2="533.30" stroke="#3a3a3a" stroke-width="1" shape-rendering="crispEdges"/>
<line x1="210.00" y1="532.80" x2="282.50" y2="532.80" stroke="#3a3a3a" stroke-width="1" shape-rendering="crispEdges"/>
<line x1="207.90" y1="532.80" x2="210.50" y2="532.80" stroke="#333" stroke-width="0.7"/>
<text x="205.10" y="535.20" font-size="6.8" text-anchor="end" font-weight="normal" font-style="normal" fill="#000" >0</text>
<line x1="207.90" y1="489.68" x2="210.50" y2="489.68" stroke="#333" stroke-width="0.7"/>
<text x="205.10" y="492.08" font-size="6.8" text-anchor="end" font-weight="normal" font-style="normal" fill="#000" >40</text>
<line x1="207.90" y1="446.56" x2="210.50" y2="446.56" stroke="#333" stroke-width="0.7"/>
<text x="205.10" y="448.96" font-size="6.8" text-anchor="end" font-weight="normal" font-style="normal" fill="#000" >80</text>
<line x1="207.90" y1="403.44" x2="210.50" y2="403.44" stroke="#333" stroke-width="0.7"/>
<text x="205.10" y="405.84" font-size="6.8" text-anchor="end" font-weight="normal" font-style="normal" fill="#000" >120</text>
<text transform="translate(194.40 468.10) rotate(-90)" font-size="6.8" text-anchor="middle" font-weight="bold" fill="#111" >% increased binding of cells in mitosis</text>
<rect x="236.30" y="500.00" width="4.80" height="4.80" fill="#111"/>
<path d="M238.70 504.24L241.60 509.46L235.80 509.46Z" fill="#b0b0b0"/>
<rect x="231.80" y="510.79" width="14.30" height="2.20" fill="#000"/>
<circle cx="238.30" cy="528.06" r="2.6" fill="#222"/>
<path d="M266.90 411.97L269.90 417.37L263.90 417.37Z" fill="#a8a8a8"/>
<rect x="259.90" y="450.73" width="14.40" height="2.00" fill="#000"/>
<path d="M267.00 449.43L269.30 451.73L267.00 454.03L264.70 451.73Z" fill="#111"/>
<circle cx="266.90" cy="458.63" r="2.6" fill="#222"/>
<rect x="264.50" y="463.56" width="4.80" height="4.80" fill="#111"/>
<path d="M266.90 471.90L269.60 467.04L264.20 467.04Z" fill="#a5a5a5"/>
<text x="233.60" y="542.20" font-size="6.95" text-anchor="middle" fill="#000" style="">NKp46<tspan font-size="3.82" dy="-2.64">low</tspan><tspan dy="2.64"></tspan></text>
<text x="234.70" y="550.80" font-size="6.8" text-anchor="middle" font-weight="normal" font-style="normal" fill="#000" >clones</text>
<text x="277.20" y="542.20" font-size="6.95" text-anchor="middle" fill="#000" style="">NKp46<tspan font-size="3.82" dy="-2.64">high</tspan><tspan dy="2.64"></tspan></text>
<text x="277.80" y="550.80" font-size="6.8" text-anchor="middle" font-weight="normal" font-style="normal" fill="#000" >clones</text>
<text x="301.80" y="396.00" font-size="14.7" text-anchor="start" font-weight="bold" font-style="normal" fill="#000" >H</text>
<rect x="334.70" y="448.50" width="12.20" height="84.50" fill="#000"/>
<rect x="347.25" y="410.50" width="12.10" height="122.50" fill="#c4c4c4" stroke="#3a3a3a" stroke-width="0.7"/>
<text x="340.30" y="447.20" font-size="6.9" text-anchor="middle" font-weight="normal" font-style="normal" fill="#000" >768</text>
<text x="353.30" y="408.85" font-size="6.9" text-anchor="middle" font-weight="normal" font-style="normal" fill="#000" >112</text>
<path d="M341.80 402.60V397.60H353.30V402.60" fill="none" stroke="#111" stroke-width="1.2"/>
<text transform="translate(347.75 400.92) scale(1 1.15)" font-size="15" text-anchor="middle" font-weight="bold" fill="#000" letter-spacing="0" style="stroke-width:0.22px">*</text>
<rect x="377.20" y="455.32" width="12.20" height="77.68" fill="#000"/>
<rect x="389.75" y="469.33" width="11.70" height="63.67" fill="#c4c4c4" stroke="#3a3a3a" stroke-width="0.7"/>
<text x="383.00" y="454.02" font-size="6.9" text-anchor="middle" font-weight="normal" font-style="normal" fill="#000" >714</text>
<text x="395.60" y="467.68" font-size="6.9" text-anchor="middle" font-weight="normal" font-style="normal" fill="#000" >112</text>
<path d="M384.30 447.00V442.00H396.20V447.00" fill="none" stroke="#111" stroke-width="1.2"/>
<text x="390.55" y="440.00" font-size="9" text-anchor="middle" font-weight="normal" font-style="italic" fill="#111" >n.s.</text>
<line x1="325.50" y1="403.00" x2="325.50" y2="533.50" stroke="#3a3a3a" stroke-width="1" shape-rendering="crispEdges"/>
<line x1="325.00" y1="533.00" x2="411.30" y2="533.00" stroke="#3a3a3a" stroke-width="1" shape-rendering="crispEdges"/>
<line x1="322.90" y1="533.00" x2="325.50" y2="533.00" stroke="#333" stroke-width="0.7"/>
<text x="321.30" y="535.52" font-size="7" text-anchor="end" font-weight="normal" font-style="normal" fill="#000" >0</text>
<line x1="322.90" y1="500.50" x2="325.50" y2="500.50" stroke="#333" stroke-width="0.7"/>
<text x="321.30" y="503.02" font-size="7" text-anchor="end" font-weight="normal" font-style="normal" fill="#000" >10</text>
<line x1="322.90" y1="468.00" x2="325.50" y2="468.00" stroke="#333" stroke-width="0.7"/>
<text x="321.30" y="470.52" font-size="7" text-anchor="end" font-weight="normal" font-style="normal" fill="#000" >20</text>
<line x1="322.90" y1="435.50" x2="325.50" y2="435.50" stroke="#333" stroke-width="0.7"/>
<text x="321.30" y="438.02" font-size="7" text-anchor="end" font-weight="normal" font-style="normal" fill="#000" >30</text>
<line x1="322.90" y1="403.00" x2="325.50" y2="403.00" stroke="#333" stroke-width="0.7"/>
<text x="321.30" y="405.52" font-size="7" text-anchor="end" font-weight="normal" font-style="normal" fill="#000" >40</text>
<line x1="325.50" y1="533.00" x2="325.50" y2="535.40" stroke="#333" stroke-width="0.7"/>
<line x1="368.00" y1="533.00" x2="368.00" y2="535.40" stroke="#333" stroke-width="0.7"/>
<line x1="411.00" y1="533.00" x2="411.00" y2="535.40" stroke="#333" stroke-width="0.7"/>
<text x="345.80" y="543.00" font-size="5.9" text-anchor="middle" font-weight="normal" font-style="normal" fill="#2a2a2a" style="stroke:none">i.c. mAb</text>
<text x="390.50" y="543.00" font-size="5.9" text-anchor="middle" font-weight="normal" font-style="normal" fill="#2a2a2a" style="stroke:none">anti-NKp44</text>
<text x="390.50" y="550.80" font-size="5.9" text-anchor="middle" font-weight="normal" font-style="normal" fill="#2a2a2a" style="stroke:none">mAb</text>
<text transform="translate(310.60 469.00) rotate(-90)" font-size="6.92" text-anchor="middle" font-weight="bold" fill="#111" >% target cells bound to NK cells</text>
<rect x="373.50" y="401.50" width="4.90" height="4.90" fill="#000"/>
<text x="382.00" y="400.50" font-size="5.7" text-anchor="start" font-weight="bold" font-style="normal" fill="#111" >Other cell-</text>
<text x="382.00" y="406.09" font-size="5.7" text-anchor="start" font-weight="bold" font-style="normal" fill="#111" >cycle stages</text>
<rect x="373.90" y="413.30" width="4.10" height="4.10" fill="#dcdcdc" stroke="#333" stroke-width="0.8"/>
<text x="382.00" y="417.40" font-size="5.7" text-anchor="start" font-weight="bold" font-style="normal" fill="#111" >Mitosis</text>
</svg></body></html>
